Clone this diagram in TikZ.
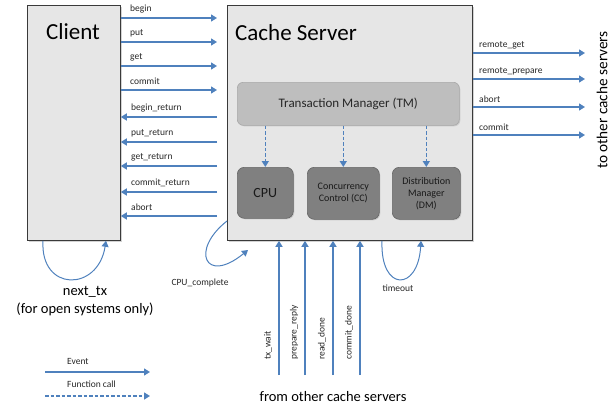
\documentclass[tikz,border=0pt]{standalone}
\usepackage{fontspec}
\setmainfont{Carlito}
\usetikzlibrary{arrows.meta,shadows,calc}
\definecolor{arrowblue}{HTML}{4F81BD}
\definecolor{boxfill}{HTML}{E6E6E6}
\definecolor{boxline}{HTML}{3A3A3A}
\definecolor{tmfill}{HTML}{BEBEBE}
\definecolor{tmline}{HTML}{A8A8A8}
\definecolor{subfill}{HTML}{808080}
\definecolor{subline}{HTML}{666666}
\begin{document}
\begin{tikzpicture}[x=1pt,y=-1pt,
  ev/.style={draw=arrowblue, line width=1.4pt, -{Triangle[width=7pt,length=6pt]}},
  fc/.style={ev, line width=1.6pt, dash pattern=on 3.5pt off 2pt},
  loopev/.style={ev, line width=1pt},
  lbl/.style={font=\fontsize{9.5}{11.5}\selectfont, inner sep=1pt, text=black!85},
  big/.style={font=\fontsize{14.5}{18}\selectfont, inner sep=1pt, align=center},
  bigbox/.style={draw=boxline, fill=boxfill, line width=0.8pt, anchor=north west,
     drop shadow={opacity=0.35, shadow xshift=1.5pt, shadow yshift=-1.5pt}},
  tmbox/.style={draw=tmline, fill=tmfill, rounded corners=6pt, anchor=north west, line width=0.6pt,
     drop shadow={opacity=0.25, shadow xshift=1pt, shadow yshift=-1pt}},
  subbox/.style={draw=subline, fill=subfill, rounded corners=7pt, anchor=north west, line width=0.6pt,
     align=center, font=\fontsize{10}{12}\selectfont, text=black!90,
     drop shadow={opacity=0.25, shadow xshift=1pt, shadow yshift=-1pt}}
]
\useasboundingbox (0,0) rectangle (610,410);

% main boxes
\node[bigbox, minimum width=93pt, minimum height=235pt] (client) at (27,5) {};
\node[bigbox, minimum width=245pt, minimum height=235pt] (cache) at (227,5) {};
\node[font=\fontsize{23}{27}\selectfont, inner sep=0pt] (clienttitle) at (73,32) {Client};
\node[font=\fontsize{23}{27}\selectfont, inner sep=0pt, anchor=west] (cachetitle) at (235,33) {Cache Server};

% inner boxes
\node[tmbox, minimum width=222pt, minimum height=43pt] (tm) at (237,82) {};
\node[text=black!85] (tmtext) at (tm.center) {\fontsize{13}{15}\selectfont Transaction Manager (TM)};
\node[subbox, minimum width=56pt, minimum height=51pt, font=\fontsize{14}{16}\selectfont] (cpu) at (237,167) {CPU};
\node[subbox, minimum width=72pt, minimum height=52pt] (cc) at (307,167) {Concurrency\\Control (CC)};
\node[subbox, minimum width=68pt, minimum height=52pt] (dm) at (392,167) {Distribution\\Manager\\(DM)};

\draw[fc] (tm.south -| cpu.north) -- (cpu.north);
\draw[fc] (tm.south -| cc.north) -- (cc.north);
\draw[fc] (tm.south -| dm.north) -- (dm.north);

% client <-> server
\coordinate (gapL) at ($(cache.west)+(-10,0)$);
\foreach \yy/\lab in {18/begin,42/put,66/get,90/commit}{
  \draw[ev] (client.east |- 0,\yy) -- (gapL |- 0,\yy);
  \node[lbl, anchor=west] (ltop\yy) at (129,\yy-9) {\lab};
}
\foreach \yy/\lab in {117/begin\_return,142/put\_return,166/get\_return,192/commit\_return,216/abort}{
  \draw[ev] (gapL |- 0,\yy) -- (client.east |- 0,\yy);
  \node[lbl, anchor=west] (lbot\yy) at (130,\yy-9) {\lab};
}

% server -> other servers
\node[font=\fontsize{15.3}{18}\selectfont, rotate=90, inner sep=0pt] (toothers) at (602,100) {to other cache servers};
\coordinate (toR) at (585,0);
\foreach \yy/\lab in {53/remote\_get,79/remote\_prepare,107/abort,135/commit}{
  \draw[ev] (cache.east |- 0,\yy) -- (toR |- 0,\yy);
  \node[lbl, anchor=west] (lr\yy) at (478,\yy-8) {\lab};
}

% from other servers
\node[big] (fromothers) at (333,397) {from other cache servers};
\coordinate (fromB) at (0,375);
\foreach \xx/\lab in {279/tx\_wait,305/prepare\_reply,333/read\_done,360/commit\_done}{
  \draw[ev] (fromB -| \xx,0) -- (cache.south -| \xx,0);
  \node[lbl, rotate=90, anchor=west] (lb\xx) at (\xx-11,361) {\lab};
}

% loops
\draw[loopev] (client.south -| 43,0) .. controls (40,292) and (98,292) .. (client.south -| 106,0);
\node[big] (nexttx) at (85,301) {next\_tx\\(for open systems only)};

\coordinate (cpuend) at (248,250);
\draw[loopev] (cache.west |- 0,221) .. controls (190,250) and (205,285) .. (cpuend);
\node[lbl] (cpucomplete) at (200,283) {CPU\_complete};

\draw[loopev] (cache.south -| 382,0) .. controls (380,292) and (418,292) .. (cache.south -| 421,0);
\node[lbl] (timeout) at (398,288) {timeout};

% legend
\node[lbl, anchor=west] (evlbl) at (66,361) {Event};
\coordinate (ev1) at (45,372);
\coordinate (ev2) at (150,372);
\draw[ev] (ev1) -- (ev2);
\node[lbl, anchor=west] (fclbl) at (66,384) {Function call};
\coordinate (fc1) at (45,396);
\coordinate (fc2) at (150,396);
\draw[fc] (fc1) -- (fc2);
\end{tikzpicture}
\end{document}
